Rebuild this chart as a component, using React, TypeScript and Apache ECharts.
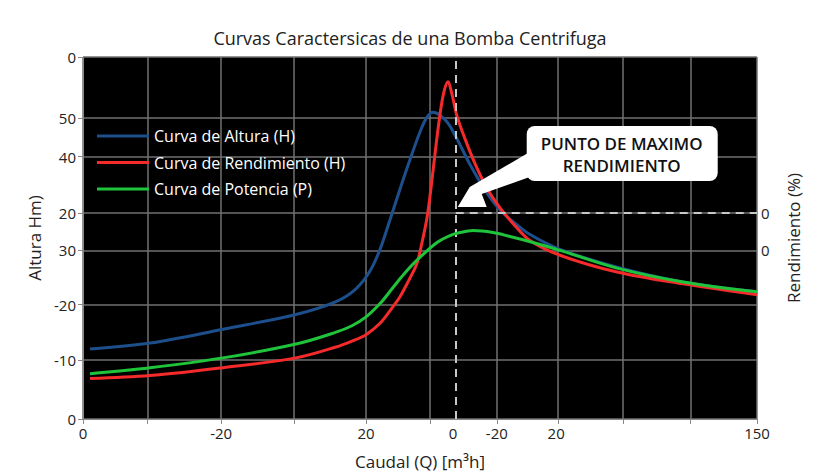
import React, { useEffect, useRef } from 'react';
import * as echarts from 'echarts';

const titleText = 'Curvas Caractersicas de una Bomba Centrifuga';
const xAxisTitle = 'Caudal (Q) [m³h]';
const yAxisTitle = 'Altura Hm)';
const yRightTitle = 'Rendimiento (%)';
const calloutText = 'PUNTO DE MAXIMO\nRENDIMIENTO';

const xTickPos = [0, 9.6, 20.5, 31.3, 42.0, 51.5, 61.4, 70.5, 80.1, 90.1, 100];
const xLabelPos = [0, 20.5, 42.0, 54.9, 61.4, 70.2, 100];
const xLabelText = ['0', '-20', '20', '0', '-20', '20', '150'];
const yTickPos = [0, 16.3, 31.6, 46.6, 56.9, 72.5, 83.1, 100];
const yLabelText = ['0', '-10', '-20', '30', '20', '40', '50', '0'];
const yRightPos = [46.6, 56.9];
const yRightText = ['0', '0'];

const maxPoint = [55.3, 56.9];

const alturaQ = [1.04, 9.94, 20.77, 31.6, 37.54, 40.5, 42.58, 44.07, 45.55, 47.03, 48.52, 50.0, 51.04, 51.93, 52.97, 54.15, 55.49, 57.42, 59.94, 61.87, 64.09, 66.32, 70.77, 79.23, 89.02, 100];
const alturaH = [19.35, 20.98, 24.8, 28.88, 32.43, 35.97, 40.87, 46.87, 55.04, 63.49, 71.66, 79.29, 83.38, 84.74, 83.92, 81.74, 77.38, 70.3, 62.4, 57.77, 54.09, 50.95, 46.87, 41.96, 37.87, 35.15];

const rendQ = [1.04, 9.94, 20.77, 31.6, 37.54, 39.91, 41.99, 44.07, 46.0, 47.03, 48.52, 49.55, 50.3, 51.04, 51.63, 52.23, 52.97, 53.56, 54.15, 54.75, 55.49, 56.68, 58.16, 59.94, 61.87, 64.09, 66.32, 70.77, 79.23, 89.02, 100];
const rendH = [11.17, 11.99, 14.17, 16.89, 19.89, 21.53, 23.3, 26.43, 31.06, 33.79, 38.96, 43.05, 48.77, 55.59, 63.76, 73.3, 84.2, 90.46, 93.19, 89.65, 83.65, 77.38, 70.57, 63.76, 58.31, 53.41, 49.32, 45.23, 40.6, 37.33, 34.33];

const potQ = [1.04, 9.94, 20.77, 31.6, 37.54, 39.91, 41.99, 44.07, 45.85, 47.63, 49.55, 52.52, 54.45, 55.93, 57.86, 60.83, 63.35, 66.77, 70.77, 79.23, 89.02, 100];
const potP = [12.53, 14.17, 16.89, 20.71, 23.98, 25.75, 28.2, 31.88, 35.97, 40.05, 43.87, 48.77, 50.68, 51.5, 52.04, 51.5, 50.41, 48.77, 46.59, 41.69, 37.87, 35.15];

const seriesNames = ['Curva de Altura (H)', 'Curva de Rendimiento (H)', 'Curva de Potencia (P)'];
const seriesColors = ['#1d4f8c', '#f52a2a', '#1fc43a'];

const zip = (xs: number[], ys: number[]) => xs.map((x, i) => [x, ys[i]]);
const labelFor = (pos: number[], txt: string[]) => (v: number) => {
  let best = 0;
  for (let i = 0; i < pos.length; i++) if (Math.abs(pos[i] - v) < Math.abs(pos[best] - v)) best = i;
  return txt[best];
};

const FONT = '"Open Sans", "Noto Sans", sans-serif';

export default function App() {
  const ref = useRef<HTMLDivElement>(null);
  useEffect(() => {
    if (!ref.current) return;
    const chart = echarts.init(ref.current, null, { renderer: 'svg' });
    const lineStyleBase = { width: 3 };
    chart.setOption({
      animation: false,
      backgroundColor: '#ffffff',
      textStyle: { fontFamily: FONT },
      title: {
        text: titleText,
        left: 'center',
        top: 24,
        textStyle: { fontFamily: FONT, fontSize: 18, fontWeight: 'normal', color: '#222' },
      },
      legend: {
        orient: 'vertical',
        left: 92,
        top: 121,
        icon: 'rect',
        itemWidth: 52,
        itemHeight: 3,
        itemGap: 6.5,
        data: seriesNames,
        textStyle: { color: '#ffffff', fontSize: 16, fontFamily: FONT, lineHeight: 20 },
      },
      grid: {
        left: 83,
        right: 63,
        top: 57,
        bottom: 51,
        show: true,
        backgroundColor: '#000000',
        borderWidth: 0,
      },
      xAxis: {
        type: 'value',
        min: 0,
        max: 100,
        name: xAxisTitle,
        nameLocation: 'middle',
        nameGap: 34,
        nameTextStyle: { fontSize: 17, color: '#222', fontFamily: FONT },
        axisLine: { show: true, lineStyle: { color: '#888', width: 1 } },
        axisTick: { show: true, length: 5, customValues: xTickPos, lineStyle: { color: '#888' } },
        axisLabel: {
          customValues: xLabelPos,
          formatter: labelFor(xLabelPos, xLabelText),
          fontSize: 15,
          color: '#222',
          margin: 6,
          fontFamily: FONT,
        },
        splitLine: { show: true, lineStyle: { color: '#707070', width: 1.5 } },
      },
      yAxis: [
        {
          type: 'value',
          min: 0,
          max: 100,
          name: yAxisTitle,
          nameLocation: 'middle',
          nameGap: 40,
          nameRotate: 90,
          nameTextStyle: { fontSize: 17, color: '#222', fontFamily: FONT },
          axisLine: { show: true, lineStyle: { color: '#888', width: 1 } },
          axisTick: { show: true, length: 5, customValues: yTickPos, lineStyle: { color: '#888' } },
          axisLabel: {
            customValues: yTickPos,
            formatter: labelFor(yTickPos, yLabelText),
            fontSize: 15,
            color: '#222',
            margin: 7,
            fontFamily: FONT,
          },
          splitLine: { show: true, lineStyle: { color: '#707070', width: 1.5 } },
        },
        {
          type: 'value',
          min: 0,
          max: 100,
          position: 'right',
          name: yRightTitle,
          nameLocation: 'middle',
          nameGap: 28,
          nameRotate: 90,
          nameTextStyle: { fontSize: 17, color: '#222', fontFamily: FONT },
          axisLine: { show: false },
          axisTick: { show: false },
          axisLabel: {
            customValues: yRightPos,
            formatter: labelFor(yRightPos, yRightText),
            fontSize: 15,
            color: '#222',
            margin: 4,
            fontFamily: FONT,
          },
          splitLine: { show: false },
        },
      ],
      series: [
        {
          name: seriesNames[0],
          type: 'line',
          data: zip(alturaQ, alturaH),
          smooth: 0.35,
          showSymbol: false,
          symbol: 'none',
          color: seriesColors[0],
          lineStyle: { ...lineStyleBase, color: seriesColors[0] },
          z: 3,
          markLine: {
            silent: true,
            symbol: 'none',
            label: { show: false },
            lineStyle: { color: '#c8c8c8', type: [8, 6], width: 2 },
            data: [
              { xAxis: maxPoint[0] },
              [{ coord: [maxPoint[0], maxPoint[1]] }, { coord: [100, maxPoint[1]] }],
            ],
          },
        },
        {
          name: seriesNames[1],
          type: 'line',
          data: zip(rendQ, rendH),
          smooth: 0.35,
          showSymbol: false,
          symbol: 'none',
          color: seriesColors[1],
          lineStyle: { ...lineStyleBase, color: seriesColors[1] },
          z: 4,
        },
        {
          name: seriesNames[2],
          type: 'line',
          data: zip(potQ, potP),
          smooth: 0.35,
          showSymbol: false,
          symbol: 'none',
          color: seriesColors[2],
          lineStyle: { ...lineStyleBase, color: seriesColors[2] },
          z: 5,
        },
      ],
    });
    const [tx, ty] = chart.convertToPixel({ gridIndex: 0 }, maxPoint) as number[];
    chart.setOption({
      graphic: [
        {
          type: 'polygon',
          z: 10,
          shape: {
            points: [
              [tx + 2, ty - 6],
              [tx + 14, ty - 26],
              [tx + 74, ty - 61],
              [tx + 74, ty - 36],
              [tx + 26, ty - 19],
              [tx + 31, ty - 6],
            ],
          },
          style: { fill: '#ffffff' },
        },
        {
          type: 'rect',
          z: 10,
          shape: { x: tx + 71, y: ty - 87, width: 191, height: 55, r: 8 },
          style: { fill: '#ffffff' },
        },
        {
          type: 'text',
          z: 11,
          x: tx + 166,
          y: ty - 59,
          style: {
            text: calloutText,
            fill: '#111',
            font: `600 17px ${FONT}`,
            align: 'center',
            verticalAlign: 'middle',
            lineHeight: 22,
          },
        },
      ],
    });
    return () => chart.dispose();
  }, []);
  return (
    <div
      ref={ref}
      style={{ position: 'fixed', left: 0, top: 0, width: 820, height: 475 }}
    />
  );
}
